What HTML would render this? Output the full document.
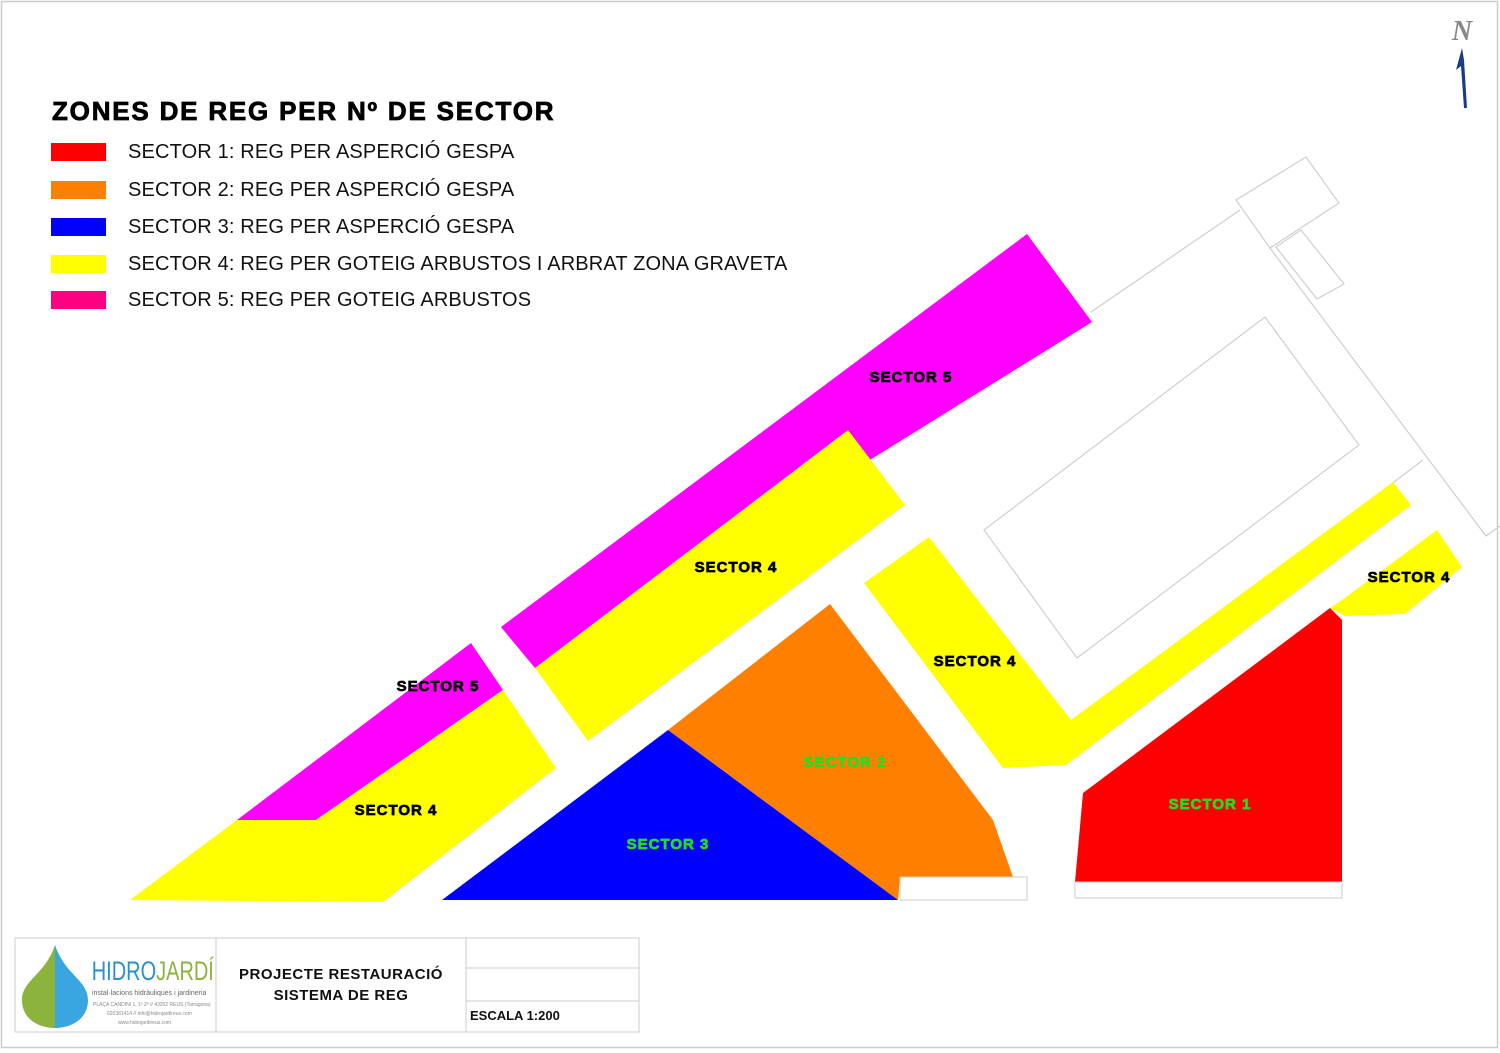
<!DOCTYPE html>
<html><head><meta charset="utf-8"><style>
body{margin:0;background:#fff;}
svg{display:block;font-family:"Liberation Sans",Arial,sans-serif;}
</style></head><body>
<svg width="1500" height="1053" viewBox="0 0 1500 1053" xmlns="http://www.w3.org/2000/svg">
<rect x="1.5" y="1.5" width="1496" height="1046" fill="#fff" stroke="#ccc" stroke-width="1.5"/>
<g fill="none" stroke="#cfcfcf" stroke-width="1.2">
<polygon points="1236,200 1306,157 1339,203 1270,248"/>
<polygon points="1276,247 1301,230 1344,284 1317,299"/>
<polyline points="1240,210 1091,312"/>
<polyline points="1270,248 1486,536 1500,526"/>
<polyline points="1423,460 1390,485"/>
<polygon points="1265,317 1359,445 1077,658 984,530"/>
</g>
<polygon points="1027,234 1092,322 535,668 501,627" fill="#ff00ff"/>
<polygon points="848,430 905,505 588,741 535,668" fill="#ffff00"/>
<polygon points="471,643 503,690 316,820 237,820" fill="#ff00ff"/>
<polygon points="503,690 556,768 383,902 130,900 237,820 316,820" fill="#ffff00"/>
<polygon points="668,730 830,604 993,820 1013,877 900,877 898,900" fill="#ff8000"/>
<polygon points="668,730 898,900 442,900" fill="#0000ff"/>
<rect x="900" y="877" width="127" height="23" fill="#fff" stroke="#ccc"/>
<polygon points="929,537 1071,720 1393,482 1411,505 1066,765 1003,768 864,583" fill="#ffff00"/>
<polygon points="1437,530 1462,567 1405,614 1345,616 1330,608 1342,600" fill="#ffff00"/>
<polygon points="1330,608 1342,620 1342,882 1075,882 1083,793" fill="#ff0000"/>
<rect x="1075" y="882" width="267" height="16" fill="#fff" stroke="#ccc"/>
<g font-weight="bold" font-size="15" text-anchor="middle" letter-spacing="1" stroke-width="0.7">
<text x="911" y="382" fill="#000" stroke="#000">SECTOR 5</text>
<text x="736" y="572" fill="#000" stroke="#000">SECTOR 4</text>
<text x="438" y="691" fill="#000" stroke="#000">SECTOR 5</text>
<text x="396" y="815" fill="#000" stroke="#000">SECTOR 4</text>
<text x="975" y="666" fill="#000" stroke="#000">SECTOR 4</text>
<text x="1409" y="582" fill="#000" stroke="#000">SECTOR 4</text>
<text x="845" y="767" fill="#22dd22" stroke="#22dd22">SECTOR 2</text>
<text x="668" y="849" fill="#22dd22" stroke="#22dd22">SECTOR 3</text>
<text x="1210" y="809" fill="#22dd22" stroke="#22dd22">SECTOR 1</text>
</g>
<text x="52" y="120" font-size="26" font-weight="bold" fill="#000" stroke="#000" stroke-width="0.8" letter-spacing="1.8">ZONES DE REG PER Nº DE SECTOR</text>
<rect x="51" y="143" width="55" height="18" fill="#ff0000"/>
<rect x="51" y="181" width="55" height="18" fill="#ff8000"/>
<rect x="51" y="218" width="55" height="18" fill="#0000ff"/>
<rect x="51" y="255" width="55" height="18" fill="#ffff00"/>
<rect x="51" y="291" width="55" height="18" fill="#ff0080"/>
<g font-size="20" fill="#111" letter-spacing="0.15">
<text x="128" y="158">SECTOR 1: REG PER ASPERCIÓ GESPA</text>
<text x="128" y="196">SECTOR 2: REG PER ASPERCIÓ GESPA</text>
<text x="128" y="233">SECTOR 3: REG PER ASPERCIÓ GESPA</text>
<text x="128" y="270">SECTOR 4: REG PER GOTEIG ARBUSTOS I ARBRAT ZONA GRAVETA</text>
<text x="128" y="306">SECTOR 5: REG PER GOTEIG ARBUSTOS</text>
</g>
<text x="1462" y="40" font-family="Liberation Serif,serif" font-style="italic" font-size="28" font-weight="bold" fill="#888" text-anchor="middle">N</text>
<path d="M1462,48 L1456,70 L1461,66 L1464,108 L1467,108 L1464,60 Z" fill="#1a3a8a"/>
<rect x="15" y="938" width="624" height="94" fill="#fff" stroke="#ccc"/>
<line x1="216" y1="938" x2="216" y2="1032" stroke="#ccc"/>
<line x1="466" y1="938" x2="466" y2="1032" stroke="#ccc"/>
<line x1="466" y1="968" x2="639" y2="968" stroke="#ccc"/>
<line x1="466" y1="1001" x2="639" y2="1001" stroke="#ccc"/>
<path d="M55,945 C45,975 22,980 22,1000 C22,1020 40,1028 55,1028 Z" fill="#8cb43c"/>
<path d="M55,945 C65,975 88,980 88,1000 C88,1020 70,1028 55,1028 Z" fill="#3aa6e0"/>
<text x="124" y="980" font-size="27" fill="#2a8fd0" transform="scale(0.74,1)">HIDRO<tspan fill="#8cb43c">JARDÍ</tspan></text>
<text x="92" y="995" font-size="7" fill="#666">instal·lacions hidràuliques i jardineria</text>
<text x="93" y="1006" font-size="5" fill="#888">PLAÇA CANDINI 1, 1º 2ª // 43202 REUS (Tarragona)</text>
<text x="107" y="1015" font-size="5" fill="#888">620381414 // info@hidrojardireus.com</text>
<text x="118" y="1024" font-size="5" fill="#888">www.hidrojardireus.com</text>
<text x="341" y="979" font-size="15" font-weight="bold" text-anchor="middle" fill="#111" letter-spacing="0.5">PROJECTE RESTAURACIÓ</text>
<text x="341" y="1000" font-size="15" font-weight="bold" text-anchor="middle" fill="#111" letter-spacing="0.5">SISTEMA DE REG</text>
<text x="470" y="1020" font-size="13" font-weight="bold" fill="#111">ESCALA 1:200</text>
</svg>
</body></html>
